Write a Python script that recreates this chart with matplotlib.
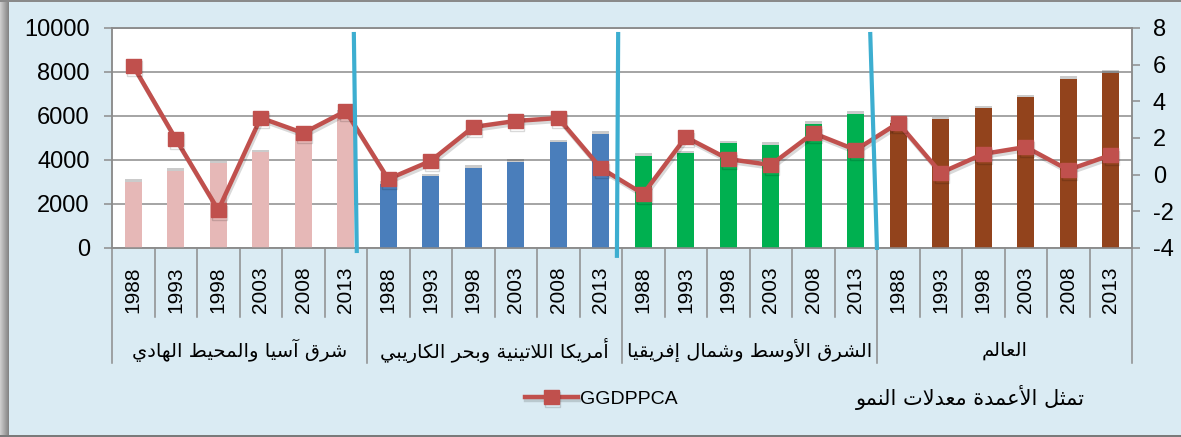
import matplotlib

matplotlib.use("Agg")
import matplotlib.pyplot as plt
import matplotlib.patheffects as pe
from matplotlib.patches import Rectangle

# ---- data ----
years = ["1988", "1993", "1998", "2003", "2008", "2013"]
regions = [
    "شرق آسيا والمحيط الهادي",
    "أمريكا اللاتينية وبحر الكاريبي",
    "الشرق الأوسط وشمال إفريقيا",
    "العالم",
]
bar_colors = ["#E6B8B7", "#4A7EBB", "#00B050", "#92431C"]

gdp_east_asia = [3000, 3500, 3850, 4350, 5150, 6150]
gdp_latam = [2900, 3250, 3650, 3900, 4800, 5200]
gdp_mena = [4200, 4300, 4750, 4700, 5650, 6100]
gdp_world = [5700, 5850, 6350, 6850, 7700, 7950]

growth_east_asia = [5.93, 1.95, -1.93, 3.10, 2.27, 3.47]
growth_latam = [-0.24, 0.75, 2.60, 2.93, 3.09, 0.36]
growth_mena = [-1.05, 2.05, 0.85, 0.53, 2.27, 1.35]
growth_world = [2.82, 0.10, 1.13, 1.51, 0.26, 1.07]

series_name = "GGDPPCA"
note_text = "تمثل الأعمدة معدلات النمو"

# hand-drawn cyan dividers: (x top, x bottom) offsets from the group edge
divider_offsets = [(-0.31, -0.24), (-0.09, -0.12), (-0.16, 0.0)]
divider_bottoms = [-230, -450, -90]

BG = "#DAEBF3"
GRID = "#8C8C8C"
RED = "#C0504D"
CYAN = "#3DAED0"


# ---- minimal Arabic shaping (presentation forms + RTL order) ----
_FORMS = {
    "\u0621": (0xFE80, 1), "\u0622": (0xFE81, 2), "\u0623": (0xFE83, 2),
    "\u0624": (0xFE85, 2), "\u0625": (0xFE87, 2), "\u0626": (0xFE89, 4),
    "\u0627": (0xFE8D, 2), "\u0628": (0xFE8F, 4), "\u0629": (0xFE93, 2),
    "\u062A": (0xFE95, 4), "\u062B": (0xFE99, 4), "\u062C": (0xFE9D, 4),
    "\u062D": (0xFEA1, 4), "\u062E": (0xFEA5, 4), "\u062F": (0xFEA9, 2),
    "\u0630": (0xFEAB, 2), "\u0631": (0xFEAD, 2), "\u0632": (0xFEAF, 2),
    "\u0633": (0xFEB1, 4), "\u0634": (0xFEB5, 4), "\u0635": (0xFEB9, 4),
    "\u0636": (0xFEBD, 4), "\u0637": (0xFEC1, 4), "\u0638": (0xFEC5, 4),
    "\u0639": (0xFEC9, 4), "\u063A": (0xFECD, 4), "\u0641": (0xFED1, 4),
    "\u0642": (0xFED5, 4), "\u0643": (0xFED9, 4), "\u0644": (0xFEDD, 4),
    "\u0645": (0xFEE1, 4), "\u0646": (0xFEE5, 4), "\u0647": (0xFEE9, 4),
    "\u0648": (0xFEED, 2), "\u0649": (0xFEEF, 2), "\u064A": (0xFEF1, 4),
}
_LAM_ALEF = {"\u0622": 0xFEF5, "\u0623": 0xFEF7, "\u0625": 0xFEF9, "\u0627": 0xFEFB}


def shape_arabic(text):
    tokens = []
    i = 0
    while i < len(text):
        c = text[i]
        if c == "\u0644" and i + 1 < len(text) and text[i + 1] in _LAM_ALEF:
            base = _LAM_ALEF[text[i + 1]]
            tokens.append([chr(base), chr(base + 1)])
            i += 2
            continue
        if c in _FORMS:
            start, n = _FORMS[c]
            tokens.append([chr(start + k) for k in range(n)])
        else:
            tokens.append(c)
        i += 1
    out = []
    for k, t in enumerate(tokens):
        if isinstance(t, str):
            out.append(t)
            continue
        prev = tokens[k - 1] if k > 0 else None
        nxt = tokens[k + 1] if k + 1 < len(tokens) else None
        join_prev = isinstance(prev, list) and len(prev) == 4 and len(t) >= 2
        join_next = len(t) == 4 and isinstance(nxt, list) and len(nxt) >= 2
        if join_prev and join_next:
            out.append(t[3])
        elif join_prev:
            out.append(t[1])
        elif join_next:
            out.append(t[2])
        else:
            out.append(t[0])
    return "".join(reversed(out))


plt.rcParams["font.family"] = ["Liberation Sans", "DejaVu Sans"]
plt.rcParams["axes.unicode_minus"] = False
AR_FONT = ["DejaVu Sans"]

gdp = [gdp_east_asia, gdp_latam, gdp_mena, gdp_world]
growth = growth_east_asia + growth_latam + growth_mena + growth_world
n_years = len(years)
n_cat = n_years * len(regions)
xs = list(range(n_cat))

fig = plt.figure(figsize=(11.81, 4.37), dpi=100, facecolor=BG)
ax = fig.add_axes([112 / 1181, 1 - 248 / 437, 1020 / 1181, 220 / 437])
ax.set_facecolor("white")

# bars, coloured by region
for g, vals in enumerate(gdp):
    gx = xs[g * n_years:(g + 1) * n_years]
    bars = ax.bar(gx, vals, width=0.4, color=bar_colors[g], zorder=3)
    for b in bars:
        b.set_path_effects([
            pe.SimplePatchShadow(offset=(0, 2), shadow_rgbFace="#303030", alpha=0.25),
            pe.Normal(),
        ])

ax.set_xlim(-0.5, n_cat - 0.5)
ax.set_ylim(0, 10000)
ax.set_yticks(range(0, 10001, 2000))
ax.yaxis.grid(True, color=GRID, lw=1.1, zorder=1)
ax.set_axisbelow(True)
ax.tick_params(axis="y", labelsize=17, length=6, color=GRID, width=1.1, pad=10)
ax.set_xticks(xs, years * len(regions), rotation=90, fontsize=15)
ax.tick_params(axis="x", length=0, pad=13)
for s in ax.spines.values():
    s.set_color(GRID)
    s.set_linewidth(1.1)

# category / group separators below the plot
xt = ax.get_xaxis_transform()
for k in range(n_cat + 1):
    depth = -0.523 if k % n_years == 0 else -0.314
    ax.plot([k - 0.5, k - 0.5], [0, depth], transform=xt, color=GRID,
            lw=1.1, clip_on=False)
for g, name in enumerate(regions):
    cx = g * n_years + (n_years - 1) / 2
    ax.text(cx, -0.464, shape_arabic(name), transform=xt, ha="center",
            va="center", fontsize=14, family=AR_FONT)

# growth line on the right axis
ax2 = ax.twinx()
ax2.set_ylim(-4, 8)
ax2.set_yticks(range(-4, 9, 2))
ax2.tick_params(axis="y", labelsize=17, length=6, color=GRID, width=1.1, pad=9)
for s in ax2.spines.values():
    s.set_color(GRID)
    s.set_linewidth(1.1)
(line,) = ax2.plot(xs, growth, color=RED, lw=3.2, marker="s", markersize=10.5,
                   markerfacecolor=RED, markeredgecolor=RED, zorder=4)
line.set_path_effects([
    pe.SimpleLineShadow(offset=(1, -2), shadow_color="k", alpha=0.15),
    pe.Normal(),
])

# cyan dividers between regions
for g in range(1, len(regions)):
    edge = g * n_years - 0.5
    (dt, db) = divider_offsets[g - 1]
    ax2.plot([edge + dt, edge + db], [9820, divider_bottoms[g - 1]],
             transform=ax.transData, color=CYAN, lw=3, zorder=6,
             clip_on=False, solid_capstyle="butt")

# legend and note
fig.legend(handles=[line], labels=[series_name], loc="center left",
           bbox_to_anchor=(525 / 1181, 1 - 399 / 437), frameon=False,
           borderpad=0, borderaxespad=0, handlelength=2.7, handletextpad=0.15,
           fontsize=14)
fig.text(970 / 1181, 1 - 398 / 437, shape_arabic(note_text), ha="center",
         va="center", fontsize=15, family=AR_FONT)

# frame around the picture
for k in range(9):
    shade = 0.80 - 0.035 * k
    fig.add_artist(Rectangle((k / 1181, 0), 1 / 1181, 1, transform=fig.transFigure,
                             facecolor=(shade, shade, shade), edgecolor="none"))
fig.add_artist(Rectangle((0, 0), 1, 2 / 437, transform=fig.transFigure,
                         facecolor="#7A7A7A", edgecolor="none"))
fig.add_artist(Rectangle((0, 1 - 2 / 437), 1, 2 / 437, transform=fig.transFigure,
                         facecolor="#8A8A8A", edgecolor="none"))

fig.savefig("out.png", dpi=100, facecolor=BG)
